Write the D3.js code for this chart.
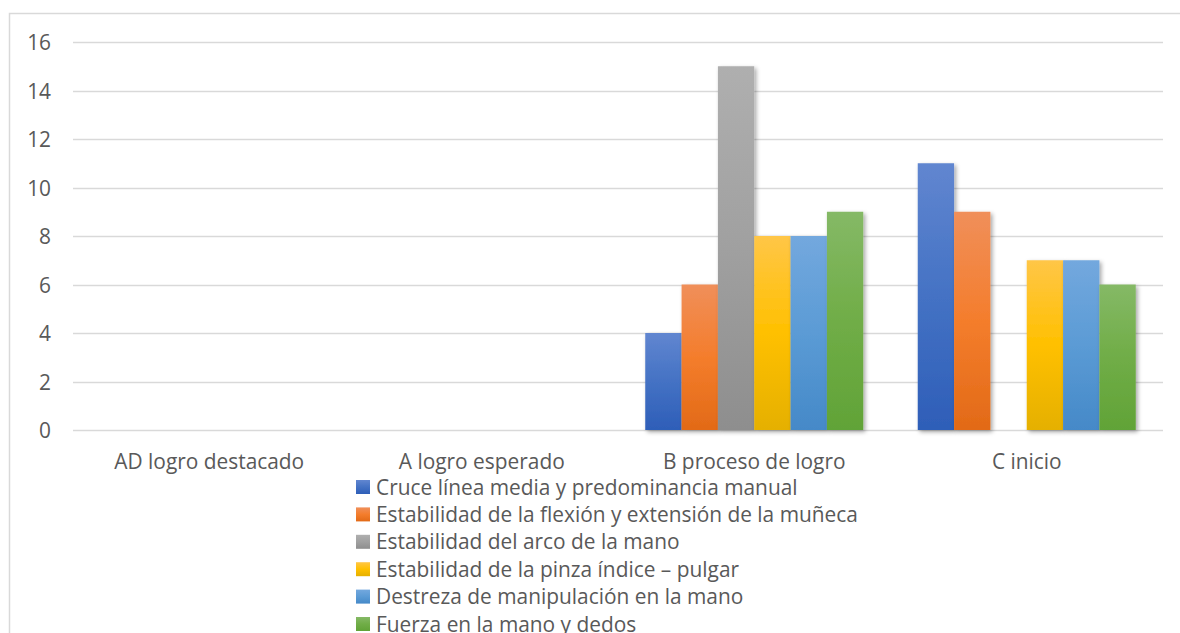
<!DOCTYPE html>
<html><head><meta charset="utf-8">
<script src="https://cdn.jsdelivr.net/npm/d3@7"></script>
<style>
html,body{margin:0;padding:0;background:#fff;}
svg{display:block;}
text{font-family:"Open Sans",sans-serif;fill:#595959;}
</style></head>
<body>
<svg id="chart" width="1180" height="633"></svg>
<script>
const categories = ["AD logro destacado", "A logro esperado", "B proceso de logro", "C inicio"];
const seriesNames = [
  "Cruce línea media y predominancia manual",
  "Estabilidad de la flexión y extensión de la muñeca",
  "Estabilidad del arco de la mano",
  "Estabilidad de la pinza índice – pulgar",
  "Destreza de manipulación en la mano",
  "Fuerza en la mano y dedos"
];
const cruce = [0, 0, 4, 11];
const flexion = [0, 0, 6, 9];
const arco = [0, 0, 15, 0];
const pinza = [0, 0, 8, 7];
const destreza = [0, 0, 8, 7];
const fuerza = [0, 0, 9, 6];
const seriesValues = [cruce, flexion, arco, pinza, destreza, fuerza];
const yTicks = [0, 2, 4, 6, 8, 10, 12, 14, 16];
const colors = [
  ["#6186d0", "#4472c4", "#2e5eb8"],
  ["#f08f5a", "#f47d2c", "#e26a17"],
  ["#afafaf", "#a0a0a0", "#8e8e8e"],
  ["#ffc647", "#ffc000", "#e5b000"],
  ["#73a8de", "#5b9bd5", "#4589c8"],
  ["#85b966", "#70ad47", "#61a337"]
];

const svg = d3.select("#chart");
const defs = svg.append("defs");
colors.forEach((c, i) => {
  const g = defs.append("linearGradient").attr("id", "grad" + i)
    .attr("x1", 0).attr("y1", 0).attr("x2", 0).attr("y2", 1);
  g.append("stop").attr("offset", "0%").attr("stop-color", c[0]);
  g.append("stop").attr("offset", "50%").attr("stop-color", c[1]);
  g.append("stop").attr("offset", "100%").attr("stop-color", c[2]);
});
const f = defs.append("filter").attr("id", "shadow")
  .attr("x", "-20%").attr("y", "-10%").attr("width", "150%").attr("height", "130%");
f.append("feDropShadow").attr("dx", 2).attr("dy", 2).attr("stdDeviation", 2.2)
  .attr("flood-color", "#000").attr("flood-opacity", 0.35);

// chart border
svg.append("rect").attr("x", 9.5).attr("y", 13.5).attr("width", 1200).attr("height", 700)
  .attr("fill", "none").attr("stroke", "#d9d9d9").attr("stroke-width", 1.5);

const plot = {left: 73, right: 1163, top: 42, bottom: 430};
const x = d3.scaleBand().domain(categories).range([plot.left, plot.right]).paddingInner(0).paddingOuter(0);
const y = d3.scaleLinear().domain([0, 16]).range([plot.bottom, plot.top]);
const groupW = x.bandwidth() * 6 / 7.5;
const x1 = d3.scaleBand().domain(d3.range(6)).range([0, groupW]).padding(0);

// measure font size so the longest legend entry matches the reference width
const probe = svg.append("text").style("font-size", "20px").text(seriesNames[1]);
const fs = 20 * 482 / probe.node().getComputedTextLength();
probe.remove();
const fsStr = fs.toFixed(2) + "px";

// gridlines
svg.append("g").selectAll("line").data(yTicks).join("line")
  .attr("x1", plot.left).attr("x2", plot.right)
  .attr("y1", d => Math.round(y(d)) + 0.5).attr("y2", d => Math.round(y(d)) + 0.5)
  .attr("stroke", "#d9d9d9").attr("stroke-width", d => d === 0 ? 1.5 : 1.3);

// y axis labels
const yAxis = d3.axisLeft(y).tickValues(yTicks).tickSize(0).tickPadding(0);
const ya = svg.append("g").attr("transform", `translate(51,0)`).call(yAxis);
ya.select(".domain").remove();
ya.selectAll("text").style("font-size", fsStr).attr("fill", "#595959")
  .style("font-family", "'Open Sans',sans-serif").attr("dy", "0.36em");

// bars
const groups = svg.append("g").selectAll("g").data(categories).join("g")
  .attr("transform", d => `translate(${x(d) + (x.bandwidth() - groupW) / 2},0)`);
groups.selectAll("rect").data((d, ci) => seriesValues.map((s, si) => ({si, v: s[ci]})).filter(o => o.v > 0))
  .join("rect")
  .attr("x", d => x1(d.si)).attr("width", x1.bandwidth())
  .attr("y", d => y(d.v)).attr("height", d => y(0) - y(d.v))
  .attr("fill", d => `url(#grad${d.si})`)
  .attr("filter", "url(#shadow)");

// x axis labels
const xAxis = d3.axisBottom(x).tickSize(0).tickPadding(0);
const xa = svg.append("g").attr("transform", `translate(0,${plot.bottom})`).call(xAxis);
xa.select(".domain").remove();
xa.selectAll("text").style("font-size", fsStr).attr("fill", "#595959")
  .style("font-family", "'Open Sans',sans-serif").attr("dy", "0").attr("y", 39);

// legend
const leg = svg.append("g").attr("transform", "translate(356,0)");
const rows = leg.selectAll("g").data(seriesNames).join("g")
  .attr("transform", (d, i) => `translate(0,${487 + i * 27.4})`);
rows.append("rect").attr("x", 0).attr("y", -7).attr("width", 14).attr("height", 14)
  .attr("fill", (d, i) => `url(#grad${i})`);
rows.append("text").attr("x", 20).attr("y", 0).attr("dy", "0.36em")
  .style("font-size", fsStr).text(d => d);
</script>
</body></html>
